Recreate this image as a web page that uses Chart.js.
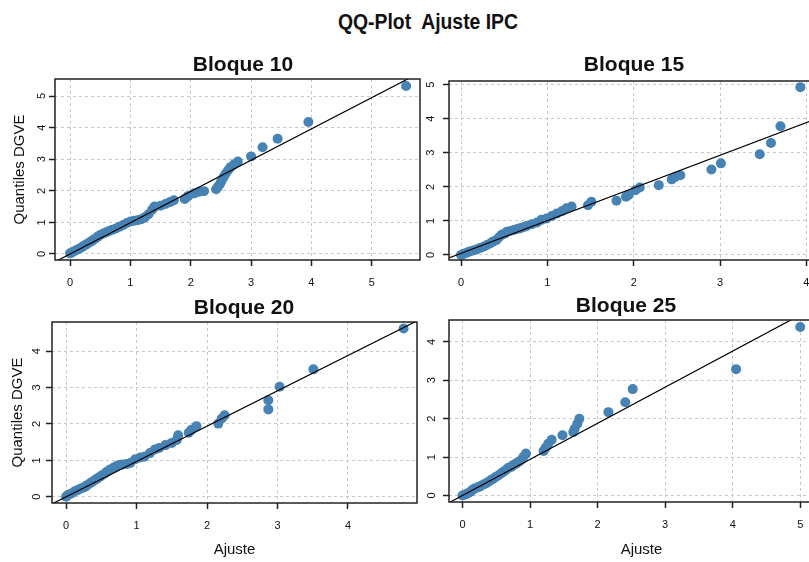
<!DOCTYPE html>
<html>
<head>
<meta charset="utf-8">
<script src="https://cdn.jsdelivr.net/npm/chart.js@4.4.0/dist/chart.umd.min.js"></script>
<style>
  html, body { margin: 0; padding: 0; background: #fff; overflow: hidden; }
  body { width: 809px; height: 562px; position: relative; font-family: "Liberation Sans", Arial, sans-serif; }
  canvas { position: absolute; }
  .ttl { position: absolute; font-weight: bold; white-space: nowrap; line-height: 1; color: #111; }
</style>
</head>
<body>
<canvas id="b10" width="430" height="233" style="left:0;top:57px"></canvas>
<canvas id="b15" width="450" height="231" style="left:400px;top:59px"></canvas>
<canvas id="b20" width="430" height="262" style="left:0;top:300px"></canvas>
<canvas id="b25" width="450" height="264" style="left:400px;top:298px"></canvas>

<div class="ttl" style="left:428px;top:22px;font-size:22px;transform:translate(-50%,-50%) scaleX(0.88)">QQ-Plot&nbsp; Ajuste IPC</div>
<div class="ttl" style="left:243px;top:63px;font-size:21px;transform:translate(-50%,-50%)">Bloque 10</div>
<div class="ttl" style="left:634px;top:63px;font-size:21px;transform:translate(-50%,-50%)">Bloque 15</div>
<div class="ttl" style="left:244px;top:306px;font-size:21px;transform:translate(-50%,-50%)">Bloque 20</div>
<div class="ttl" style="left:626px;top:304px;font-size:21px;transform:translate(-50%,-50%)">Bloque 25</div>

<script>
// quantiles: x = Ajuste, y = Quantiles DGVE
const b10X = [0.00,0.03,0.06,0.10,0.14,0.18,0.22,0.26,0.30,0.34,0.38,0.42,0.46,0.50,0.55,0.60,0.65,0.70,0.76,0.82,0.88,0.94,1.00,1.06,1.12,1.18,1.24,1.30,1.36,1.40,1.50,1.58,1.66,1.72,1.90,1.96,2.06,2.14,2.22,2.42,2.45,2.48,2.50,2.52,2.55,2.58,2.62,2.66,2.72,2.78,3.00,3.19,3.44,3.95,5.57];
const b10Y = [0.02,0.05,0.08,0.12,0.16,0.20,0.25,0.29,0.34,0.39,0.44,0.49,0.55,0.60,0.65,0.69,0.73,0.77,0.81,0.86,0.92,0.98,1.03,1.05,1.07,1.10,1.16,1.26,1.40,1.50,1.53,1.58,1.65,1.70,1.74,1.84,1.92,1.97,1.99,2.05,2.12,2.20,2.28,2.36,2.45,2.55,2.65,2.75,2.84,2.93,3.09,3.38,3.65,4.18,5.32];

const b15X = [0.00,0.03,0.07,0.10,0.14,0.18,0.22,0.26,0.30,0.34,0.37,0.41,0.44,0.47,0.51,0.53,0.57,0.61,0.65,0.68,0.72,0.76,0.82,0.88,0.93,0.99,1.05,1.11,1.17,1.22,1.28,1.47,1.51,1.80,1.91,1.94,2.02,2.07,2.29,2.44,2.48,2.54,2.90,3.01,3.46,3.59,3.70,3.93];
const b15Y = [0.00,0.03,0.07,0.10,0.13,0.16,0.20,0.24,0.29,0.34,0.39,0.44,0.52,0.59,0.63,0.68,0.70,0.73,0.76,0.78,0.81,0.85,0.90,0.95,1.03,1.07,1.14,1.22,1.29,1.37,1.42,1.46,1.56,1.59,1.71,1.76,1.90,1.98,2.05,2.22,2.29,2.34,2.51,2.69,2.96,3.29,3.78,4.93];

const b20X = [0.00,0.02,0.06,0.10,0.13,0.17,0.20,0.24,0.27,0.30,0.34,0.37,0.41,0.44,0.48,0.51,0.55,0.58,0.62,0.67,0.71,0.75,0.80,0.86,0.91,0.98,1.05,1.11,1.19,1.26,1.32,1.41,1.50,1.57,1.59,1.74,1.78,1.85,2.16,2.21,2.25,2.87,2.87,3.03,3.51,4.79];
const b20Y = [0.00,0.04,0.08,0.12,0.16,0.19,0.22,0.25,0.28,0.32,0.37,0.41,0.46,0.50,0.55,0.59,0.64,0.69,0.74,0.80,0.84,0.87,0.89,0.90,0.93,1.03,1.08,1.10,1.20,1.30,1.34,1.42,1.48,1.56,1.69,1.76,1.84,1.94,2.01,2.15,2.24,2.40,2.65,3.02,3.50,4.62];

const b25X = [0.00,0.03,0.06,0.08,0.12,0.15,0.18,0.22,0.25,0.28,0.32,0.35,0.38,0.42,0.45,0.49,0.53,0.57,0.60,0.64,0.68,0.72,0.75,0.79,0.82,0.86,0.90,0.94,1.20,1.23,1.27,1.32,1.48,1.64,1.66,1.70,1.73,2.16,2.41,2.52,4.05,5.00];
const b25Y = [0.00,0.02,0.04,0.06,0.10,0.15,0.18,0.21,0.23,0.26,0.29,0.32,0.35,0.40,0.43,0.48,0.52,0.57,0.61,0.66,0.72,0.74,0.79,0.83,0.86,0.91,1.00,1.09,1.16,1.24,1.35,1.45,1.57,1.65,1.74,1.87,2.00,2.17,2.43,2.77,3.29,4.39];

// reference line: [intercept, slope]
const b10Line = [0, 0.99];
const b15Line = [0.05, 0.96];
const b20Line = [0, 0.97];
const b25Line = [0, 0.94];

// axis ranges [min, max]
const b10XRange = [-0.25, 5.8],  b10YRange = [-0.19, 5.54];
const b15XRange = [-0.14, 4.32], b15YRange = [-0.15, 5.11];
const b20XRange = [-0.2, 4.98],  b20YRange = [-0.17, 4.8];
const b25XRange = [-0.2, 5.5],   b25YRange = [-0.17, 4.57];

const yTitle = 'Quantiles DGVE';
const xTitle = 'Ajuste';

const boxPlugin = {
  id: 'panelBox',
  afterDraw(chart) {
    const { ctx, chartArea: a } = chart;
    ctx.save();
    ctx.strokeStyle = '#222';
    ctx.lineWidth = 1.5;
    ctx.strokeRect(a.left, a.top, a.right - a.left, a.bottom - a.top);
    ctx.restore();
  }
};

function intTicks(scale) {
  scale.ticks = scale.ticks.filter(t => Number.isInteger(t.value) && t.value >= scale.min && t.value <= scale.max);
}

function makePanel(id, xs, ys, line, xr, yr, o) {
  const pts = xs.map((x, i) => ({ x: x, y: ys[i] }));
  const lx = [xr[0] - 1, xr[1] + 1];
  const linePts = lx.map(x => ({ x: x, y: line[0] + line[1] * x }));

  new Chart(document.getElementById(id), {
    type: 'scatter',
    data: {
      datasets: [
        { type: 'line', data: linePts, borderColor: '#000', borderWidth: 1.2, pointRadius: 0, fill: false, tension: 0, order: 0 },
        { data: pts, backgroundColor: '#4682b4', borderWidth: 0, pointRadius: 5, order: 1 }
      ]
    },
    options: {
      responsive: false,
      animation: false,
      events: [],
      layout: { padding: { top: 22, right: o.padRight, left: 0, bottom: 0 } },
      plugins: { legend: { display: false }, tooltip: { enabled: false } },
      scales: {
        x: {
          type: 'linear', min: xr[0], max: xr[1],
          afterFit: s => { s.height = o.xHeight; },
          afterBuildTicks: intTicks,
          ticks: { stepSize: 1, includeBounds: false, maxRotation: 0, padding: o.xPad, color: '#111', font: { size: 11 } },
          grid: { color: '#c8c8c8', tickColor: '#222', tickLength: 6, tickWidth: 1.5 },
          border: { display: false, dash: [3, 3] },
          title: { display: o.showX, text: xTitle, color: '#111', font: { size: 15 }, padding: { top: 0, bottom: 3 } }
        },
        y: {
          type: 'linear', min: yr[0], max: yr[1],
          afterFit: s => { s.width = o.yWidth; },
          afterBuildTicks: intTicks,
          ticks: { stepSize: 1, includeBounds: false, minRotation: 90, maxRotation: 90, crossAlign: 'center', padding: o.yPad, color: '#111', font: { size: 11 } },
          grid: { color: '#c8c8c8', tickColor: '#222', tickLength: 6, tickWidth: 1.5 },
          border: { display: false, dash: [3, 3] },
          title: { display: o.showY, text: yTitle, color: '#111', font: { size: 15 }, padding: { top: o.yTitlePad, bottom: 0 } }
        }
      }
    },
    plugins: [boxPlugin]
  });
}

makePanel('b10', b10X, b10Y, b10Line, b10XRange, b10YRange,
  { padRight: 10, yWidth: 55, xHeight: 30, xPad: 10, yPad: 4, showX: false, showY: true, yTitlePad: 11 });
makePanel('b15', b15X, b15Y, b15Line, b15XRange, b15YRange,
  { padRight: 16, yWidth: 49, xHeight: 30, xPad: 10, yPad: 9, showX: false, showY: false, yTitlePad: 0 });
makePanel('b20', b20X, b20Y, b20Line, b20XRange, b20YRange,
  { padRight: 13, yWidth: 52, xHeight: 59, xPad: 10, yPad: 6, showX: true, showY: true, yTitlePad: 9 });
makePanel('b25', b25X, b25Y, b25Line, b25XRange, b25YRange,
  { padRight: 16, yWidth: 49, xHeight: 60, xPad: 10, yPad: 8, showX: true, showY: false, yTitlePad: 0 });
</script>
</body>
</html>
